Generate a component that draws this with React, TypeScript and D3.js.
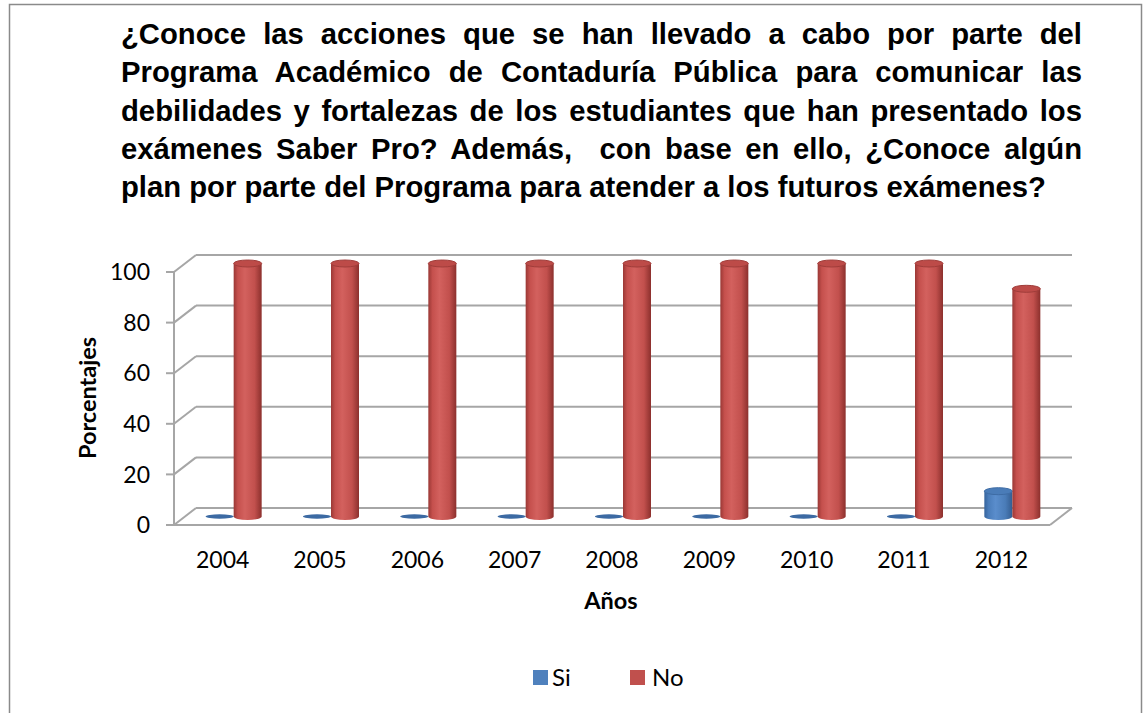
import { useRef, useEffect } from 'react';
import * as d3 from 'd3';

// chart data
const years = ['2004', '2005', '2006', '2007', '2008', '2009', '2010', '2011', '2012'];
const siValues = [0, 0, 0, 0, 0, 0, 0, 0, 10];
const noValues = [100, 100, 100, 100, 100, 100, 100, 100, 90];
const yTicks = [0, 20, 40, 60, 80, 100];
const seriesNames = ['Si', 'No'];
const titleLines = [
  '¿Conoce las acciones que se han llevado a cabo por parte del',
  'Programa Académico de Contaduría Pública para comunicar las',
  'debilidades y fortalezas de los estudiantes que han presentado los',
  'exámenes Saber Pro? Además,  con base en ello, ¿Conoce algún',
  'plan por parte del Programa para atender a los futuros exámenes?',
];

const W = 1146;
const H = 713;
const FONT = 'Lato, sans-serif';

// 3d offsets (front plane -> back wall)
const DX = 22;
const DY = -17;
const TITLE_LEFT = 121;
const TITLE_RIGHT = 1082;
const LAST_LINE_RIGHT = 1046;

export default function App() {
  const titleRef = useRef<SVGGElement | null>(null);

  const x = d3.scaleBand<string>().domain(years).range([174, 1050]).paddingInner(0);
  const y = d3.scaleLinear().domain([0, 100]).range([525, 272]);
  const barW = 28;
  const ry = 3.5;

  // size the title so the last line ends where it should, then justify the others
  useEffect(() => {
    const g = d3.select(titleRef.current);
    const texts = g.selectAll<SVGTextElement, unknown>('text');
    const nodes = texts.nodes();
    const last = nodes[nodes.length - 1];
    const lastLen = last.getComputedTextLength();
    const size = 25 * (LAST_LINE_RIGHT - TITLE_LEFT) / lastLen;
    texts.attr('font-size', size);
    nodes.forEach((node, i) => {
      if (i === nodes.length - 1) return;
      const len = node.getComputedTextLength();
      const spaces = (titleLines[i].match(/ /g) || []).length;
      d3.select(node).attr('word-spacing', (TITLE_RIGHT - TITLE_LEFT - len) / spaces);
    });
  }, []);

  const cylinder = (cx: number, value: number, kind: 'si' | 'no', key: string) => {
    const base = y(0) + DY / 2;
    const top = y(value) + DY / 2;
    const colors = kind === 'no'
      ? { top: '#bd4b48', stroke: '#a03d3a', disc: '#a9413e' }
      : { top: '#4a7cb8', stroke: '#3e6ca5', disc: '#3c6aa3' };
    if (value === 0) {
      return (
        <ellipse key={key} cx={cx} cy={base} rx={barW / 2} ry={2.2} fill={colors.disc} />
      );
    }
    return (
      <g key={key}>
        <path
          d={`M${cx - barW / 2},${top} L${cx - barW / 2},${base} A${barW / 2},${ry} 0 0 0 ${cx + barW / 2},${base} L${cx + barW / 2},${top} Z`}
          fill={`url(#grad-${kind})`}
        />
        <ellipse cx={cx} cy={top} rx={barW / 2} ry={ry} fill={colors.top} stroke={colors.stroke} strokeWidth={1} />
      </g>
    );
  };

  return (
    <svg
      width={W}
      height={H}
      style={{ position: 'absolute', left: 0, top: 0, background: '#fff' }}
    >
      <defs>
        <linearGradient id="grad-no" x1="0" x2="1" y1="0" y2="0">
          <stop offset="0%" stopColor="#9a3835" />
          <stop offset="15%" stopColor="#c5504d" />
          <stop offset="40%" stopColor="#d3615e" />
          <stop offset="75%" stopColor="#c2504d" />
          <stop offset="100%" stopColor="#8c302d" />
        </linearGradient>
        <linearGradient id="grad-si" x1="0" x2="1" y1="0" y2="0">
          <stop offset="0%" stopColor="#35639c" />
          <stop offset="15%" stopColor="#4a7dbb" />
          <stop offset="40%" stopColor="#5a8dcc" />
          <stop offset="75%" stopColor="#4a7cb8" />
          <stop offset="100%" stopColor="#345d90" />
        </linearGradient>
      </defs>

      {/* outer frame */}
      <rect x={9.5} y={4.5} width={1132} height={H + 10} fill="none" stroke="#8a8a8a" strokeWidth={1.5} />

      {/* title */}
      <g ref={titleRef}>
        {titleLines.map((line, i) => (
          <text
            key={i}
            x={TITLE_LEFT}
            y={44 + i * 38.3}
            fontWeight="bold"
            fontSize={25}
            fill="#000"
            style={{ whiteSpace: 'pre', fontFamily: "'Liberation Sans', Arimo, Arial, sans-serif" }}
          >
            {line}
          </text>
        ))}
      </g>

      {/* walls and gridlines */}
      <g stroke="#a6a6a6" strokeWidth={2} fill="none">
        {yTicks.map((t) => (
          <g key={t}>
            <line x1={174 + DX} x2={1050 + DX} y1={y(t) + DY} y2={y(t) + DY} />
            <line x1={174} x2={174 + DX} y1={y(t)} y2={y(t) + DY} />
            <line x1={166} x2={174} y1={y(t)} y2={y(t)} />
          </g>
        ))}
        <line x1={174} x2={174} y1={y(100)} y2={y(0)} />
        <line x1={174} x2={1050} y1={y(0)} y2={y(0)} />
        <line x1={1050} x2={1050 + DX} y1={y(0)} y2={y(0) + DY} />
      </g>

      {/* cylinders */}
      <g>
        {years.map((yr, i) => {
          const c = (x(yr) as number) + x.bandwidth() / 2 + DX / 2;
          return (
            <g key={yr}>
              {cylinder(c - barW / 2, siValues[i], 'si', `si-${yr}`)}
              {cylinder(c + barW / 2, noValues[i], 'no', `no-${yr}`)}
            </g>
          );
        })}
      </g>

      {/* y tick labels */}
      <g fontFamily={FONT} fontSize={23} fill="#000" textAnchor="end">
        {yTicks.map((t) => (
          <text key={t} x={150} y={y(t)} dy="0.36em">{t}</text>
        ))}
      </g>

      {/* x tick labels */}
      <g fontFamily={FONT} fontSize={23} fill="#000" textAnchor="middle">
        {years.map((yr) => (
          <text key={yr} x={(x(yr) as number) + x.bandwidth() / 2} y={568}>{yr}</text>
        ))}
      </g>

      {/* axis titles */}
      <text
        transform="translate(96,398) rotate(-90)"
        textAnchor="middle"
        fontFamily={FONT}
        fontWeight="bold"
        fontSize={23.5}
      >
        Porcentajes
      </text>
      <text x={611} y={609} textAnchor="middle" fontFamily={FONT} fontWeight="bold" fontSize={23.5}>
        Años
      </text>

      {/* legend */}
      <g fontFamily={FONT} fontSize={24} fill="#000">
        <rect x={533} y={670} width={15} height={15} fill="#4f81bd" />
        <text x={552} y={686}>{seriesNames[0]}</text>
        <rect x={630} y={670} width={15} height={15} fill="#c0504d" />
        <text x={652} y={686}>{seriesNames[1]}</text>
      </g>
    </svg>
  );
}
